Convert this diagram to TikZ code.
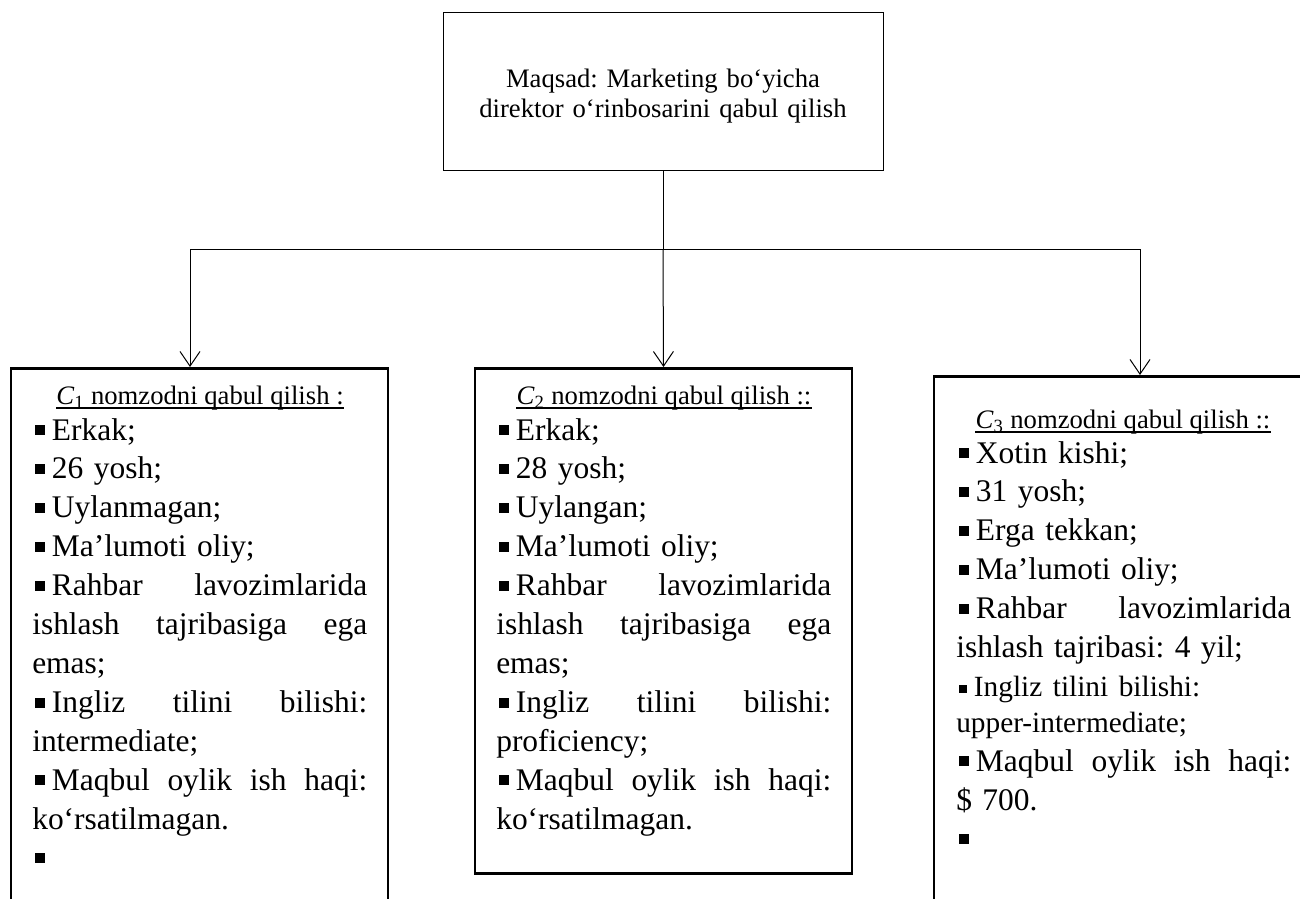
\documentclass[tikz,border=0pt]{standalone}
\usepackage{fontspec}
\setmainfont{Liberation Serif}
\usepackage{tikz}
\usetikzlibrary{arrows.meta}

\frenchspacing
\newcommand{\sqb}{\hspace*{2.25pt}\rule[3.75pt]{7.5pt}{7.5pt}\hspace{5pt}}
\newcommand{\sqbs}{\hspace*{2.25pt}\rule[3pt]{6pt}{6pt}\hspace{5pt}}
\newcommand{\jline}[1]{\leavevmode\hbox to 251.25pt{\spaceskip=.25em plus 1fil\relax #1}}

\begin{document}
\begin{tikzpicture}[x=0.75pt,y=0.75pt,yscale=-1,xscale=1,
    goalbox/.style={draw, line width=0.75pt, minimum width=330pt, minimum height=117.75pt},
    goaltxt/.style={inner sep=0pt, text width=320pt, align=center, font=\fontsize{20}{22.5}\selectfont},
    candbox/.style={draw, line width=2pt, minimum width=282.75pt, inner sep=0pt},
    headtxt/.style={inner sep=0pt, font=\fontsize{20}{24}\selectfont},
    listtxt/.style={inner sep=0pt, text width=251.25pt, align=left, font=\fontsize{23.6}{29.2}\selectfont},
    barb/.style={-{Straight Barb[length=11pt,width=15pt]}, line width=0.75pt}]
        \clip (0,0) rectangle (1300,899);

        %Shape: Rectangle
        \node[goalbox] (goal) at (663,91.5) {};
        % Text Node
        \node[goaltxt, anchor=base] (goaltext) at (663,88) {Maqsad: Marketing bo‘yicha\\direktor o‘rinbosarini qabul qilish};
        %Shape: Rectangle
        \node[candbox, minimum height=426pt, anchor=north] (cand1) at (199.5,367) {};
        %Shape: Rectangle
        \node[candbox, minimum height=378.75pt, anchor=north] (cand2) at (663.5,367) {};
        %Shape: Rectangle
        \node[candbox, minimum height=420pt, anchor=north] (cand3) at (1122.5,375) {};

        %Straight Lines
        \coordinate (jl) at (190,249);
        \coordinate (jr) at (1140,249);
        \coordinate (split) at (goal.south |- jl);
        \draw[line width=0.75pt] (goal.south) -- (split);
        \draw[line width=0.75pt] (jl) -- (jr);
        \draw[barb] (jl) -- (jl |- cand1.north);
        \draw[barb] (split) -- (cand2.north);
        \draw[barb] (jr) -- (jr |- cand3.north);

        % Text Node
        \node[headtxt, anchor=base] (head1) at (200,404) {\textit{C}\textsubscript{1} nomzodni qabul qilish :};
        \draw[line width=1pt] (head1.base west |- 0,408) -- (head1.base east |- 0,408);
        % Text Node
        \node[headtxt, anchor=base] (head2) at (664,404) {\textit{C}\textsubscript{2} nomzodni qabul qilish ::};
        \draw[line width=1pt] (head2.base west |- 0,408) -- (head2.base east |- 0,408);
        % Text Node
        \node[headtxt, anchor=base] (head3) at (1123,428) {\textit{C}\textsubscript{3} nomzodni qabul qilish ::};
        \draw[line width=1pt] (head3.base west |- 0,432) -- (head3.base east |- 0,432);

        % Text Node
        \node[listtxt, anchor=base west] (list1) at (32,440) {\sqb Erkak;\\
            \sqb 26 yosh;\\
            \sqb Uylanmagan;\\
            \sqb Ma’lumoti oliy;\\
            \jline{\sqb Rahbar lavozimlarida}\\
            \jline{ishlash tajribasiga ega}\\
            emas;\\
            \jline{\sqb Ingliz tilini bilishi:}\\
            intermediate;\\
            \jline{\sqb Maqbul oylik ish haqi:}\\
            ko‘rsatilmagan.\\
            \sqb};
        % Text Node
        \node[listtxt, anchor=base west] (list2) at (496,440) {\sqb Erkak;\\
            \sqb 28 yosh;\\
            \sqb Uylangan;\\
            \sqb Ma’lumoti oliy;\\
            \jline{\sqb Rahbar lavozimlarida}\\
            \jline{ishlash tajribasiga ega}\\
            emas;\\
            \jline{\sqb Ingliz tilini bilishi:}\\
            proficiency;\\
            \jline{\sqb Maqbul oylik ish haqi:}\\
            ko‘rsatilmagan.};
        % Text Node
        \node[listtxt, anchor=base west] (list3) at (956,463) {\sqb Xotin kishi;\\
            \sqb 31 yosh;\\
            \sqb Erga tekkan;\\
            \sqb Ma’lumoti oliy;\\
            \jline{\sqb Rahbar lavozimlarida}\\
            ishlash tajribasi: 4 yil;\\
            {\fontsize{22}{29.2}\selectfont\sqbs Ingliz tilini bilishi:}\\[-2.25pt]
            {\fontsize{22}{29.2}\selectfont upper-intermediate;}\\
            \jline{\sqb Maqbul oylik ish haqi:}\\
            \$ 700.\\
            \sqb};

\end{tikzpicture}
\end{document}
